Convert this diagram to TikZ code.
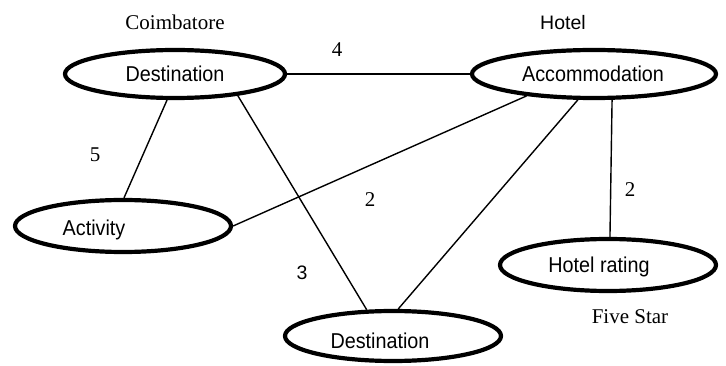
\documentclass[tikz,border=0pt]{standalone}
\usepackage{fontspec}
\setmainfont{Liberation Serif}
\newfontfamily\sansf{Liberation Sans}
\newfontfamily\sansc[FakeStretch=0.92]{Liberation Sans}
\usetikzlibrary{shapes.geometric}
\newcommand{\shiftt}[3]{\kern#1pt\raisebox{#2pt}[\height][\depth]{#3}\kern-#1pt}
\tikzset{
  ent/.style={ellipse, draw, line width=4.2pt, inner sep=0pt, font=\sansc\fontsize{21.5}{24}\selectfont},
  conn/.style={line width=1.4pt},
  lbl/.style={inner sep=0pt, font=\fontsize{21}{24}\selectfont},
  slbl/.style={inner sep=0pt, font=\sansf\fontsize{19.5}{22}\selectfont}
}
\begin{document}
\begin{tikzpicture}[x=1pt,y=-1pt]
\useasboundingbox (0,0) rectangle (726,366);
\node[ent, minimum width=220pt, minimum height=48pt] (dt) at (175,74) {Destination};
\node[ent, minimum width=244pt, minimum height=48pt] (acc) at (594,74) {\shiftt{-1}{0}{Accommodation}};
\node[ent, minimum width=216pt, minimum height=52pt] (act) at (123,226) {\shiftt{-29}{-4}{Activity}};
\node[ent, minimum width=216pt, minimum height=52pt] (hr) at (608,265) {\shiftt{-9}{-2}{Hotel rating}};
\node[ent, minimum width=216pt, minimum height=50pt] (db) at (393,336) {\shiftt{-13}{-5}{Destination}};

\draw[conn] (dt.east) -- (acc.west);
\draw[conn] (dt.-107) -- (act.88);
\draw[conn] (dt.-19) -- (db.135);
\draw[conn] (acc.-162) -- (act.east);
\draw[conn] (acc.-122) -- (db.79);
\draw[conn] (acc.-55) -- (hr.86);

\node[lbl] (l1) at (175,22) {Coimbatore};
\node[slbl] (l2) at (563,23) {Hotel};
\node[lbl] (l3) at (337,50) {4};
\node[lbl] (l4) at (95,155) {5};
\node[lbl] (l5) at (370,200) {2};
\node[lbl] (l6) at (630,190) {2};
\node[slbl] (l7) at (302,273) {3};
\node[lbl] (l8) at (630,317) {Five Star};
\end{tikzpicture}
\end{document}
